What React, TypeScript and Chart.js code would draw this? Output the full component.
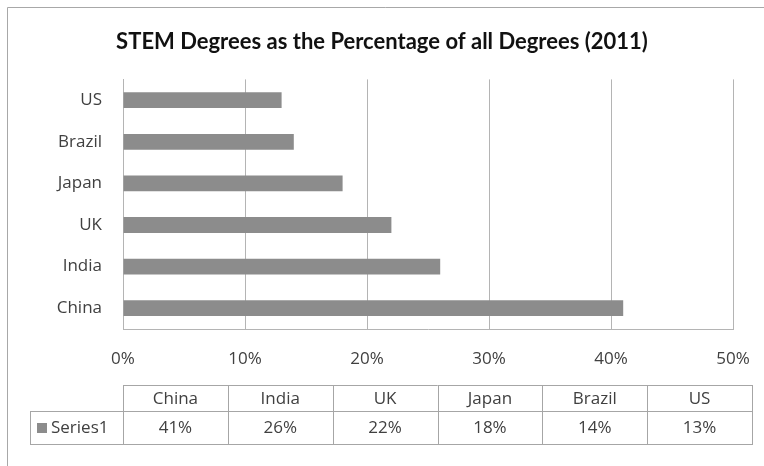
import React, { useEffect, useRef } from "react";
import { Chart, registerables } from "chart.js";

Chart.register(...registerables);

const chartTitle = "STEM Degrees as the Percentage of all Degrees (2011)";
const categories = ["China", "India", "UK", "Japan", "Brazil", "US"];
const values = [41, 26, 22, 18, 14, 13];
const seriesName = "Series1";
const xMin = 0;
const xMax = 50;
const xStep = 10;

const FONT = "'Open Sans', Lato, sans-serif";
const TITLE_FONT = "Lato, 'Open Sans', sans-serif";
const TEXT = "#404040";
const GRID = "#b4b4b4";
const BAR = "#8c8c8c";
const TABLE_LINE = "#a6a6a6";

const fmtPct = (v: number) => `${v}%`;

const framePlugin = {
  id: "frame",
  beforeDraw(chart: any) {
    const ctx = chart.ctx;
    ctx.save();
    ctx.fillStyle = "#ffffff";
    ctx.fillRect(0, 0, chart.width, chart.height);
    ctx.strokeStyle = "#a8a8a8";
    ctx.lineWidth = 1;
    ctx.beginPath();
    ctx.moveTo(7.5, chart.height);
    ctx.lineTo(7.5, 7.5);
    ctx.lineTo(chart.width, 7.5);
    ctx.stroke();
    ctx.restore();
  },
};

const tablePlugin = {
  id: "dataTable",
  afterDraw(chart: any) {
    const ctx = chart.ctx;
    const area = chart.chartArea;
    const x0 = Math.round(area.left);
    const x1 = Math.round(area.right) + 19;
    const top = 385;
    const mid = 411;
    const bottom = 444;
    const legendLeft = 30;
    const n = categories.length;
    const w = (x1 - x0) / n;
    ctx.save();
    ctx.strokeStyle = TABLE_LINE;
    ctx.lineWidth = 1;
    ctx.beginPath();
    ctx.moveTo(x0, top + 0.5);
    ctx.lineTo(x1, top + 0.5);
    ctx.moveTo(legendLeft, mid + 0.5);
    ctx.lineTo(x1, mid + 0.5);
    ctx.moveTo(legendLeft, bottom + 0.5);
    ctx.lineTo(x1, bottom + 0.5);
    ctx.moveTo(legendLeft + 0.5, mid);
    ctx.lineTo(legendLeft + 0.5, bottom + 1);
    for (let i = 0; i <= n; i++) {
      const x = Math.round(x0 + i * w) + 0.5;
      ctx.moveTo(x, top);
      ctx.lineTo(x, bottom + 1);
    }
    ctx.stroke();

    ctx.fillStyle = TEXT;
    ctx.font = `17px ${FONT}`;
    ctx.textAlign = "center";
    ctx.textBaseline = "middle";
    for (let i = 0; i < n; i++) {
      const cx = x0 + (i + 0.5) * w;
      ctx.fillText(categories[i], cx, (top + mid) / 2 + 1);
      ctx.fillText(fmtPct(values[i]), cx, (mid + bottom) / 2 + 1);
    }
    ctx.fillStyle = BAR;
    ctx.fillRect(37, 423, 10, 10);
    ctx.fillStyle = TEXT;
    ctx.textAlign = "left";
    ctx.fillText(seriesName, 51, (mid + bottom) / 2 + 1);
    ctx.restore();
  },
};

export default function App() {
  const ref = useRef<HTMLCanvasElement | null>(null);

  useEffect(() => {
    if (!ref.current) return;
    const chart = new Chart(ref.current, {
      type: "bar",
      data: {
        labels: categories,
        datasets: [
          {
            label: seriesName,
            data: values,
            backgroundColor: BAR,
            borderWidth: 0,
            categoryPercentage: 1,
            barPercentage: 0.38,
          },
        ],
      },
      options: {
        indexAxis: "y",
        animation: false,
        responsive: false,
        maintainAspectRatio: false,
        layout: { padding: 0 },
        plugins: {
          legend: { display: false },
          tooltip: { enabled: false },
          title: {
            display: true,
            text: chartTitle,
            color: "#111111",
            font: { family: TITLE_FONT, size: 22, weight: "bold" },
            padding: { top: 29, bottom: 24 },
          },
        },
        scales: {
          x: {
            min: xMin,
            max: xMax,
            ticks: {
              stepSize: xStep,
              color: TEXT,
              font: { family: FONT, size: 17 },
              padding: 20,
              callback: (v: any) => fmtPct(Number(v)),
            },
            grid: { color: GRID, drawTicks: false },
            border: { display: true, color: GRID },
            afterFit: (scale: any) => {
              scale.height = 137;
              scale.paddingLeft = 0;
              scale.paddingRight = 31;
            },
          },
          y: {
            reverse: true,
            ticks: {
              color: TEXT,
              font: { family: FONT, size: 17 },
              padding: 21,
            },
            grid: { display: false, drawTicks: false },
            border: { display: true, color: GRID },
            afterFit: (scale: any) => {
              scale.width = 123;
            },
          },
        },
      },
      plugins: [framePlugin, tablePlugin],
    });
    return () => chart.destroy();
  }, []);

  return (
    <div style={{ position: "fixed", left: 0, top: 0, width: 764, height: 466 }}>
      <canvas ref={ref} width={764} height={466} style={{ display: "block" }} />
    </div>
  );
}
